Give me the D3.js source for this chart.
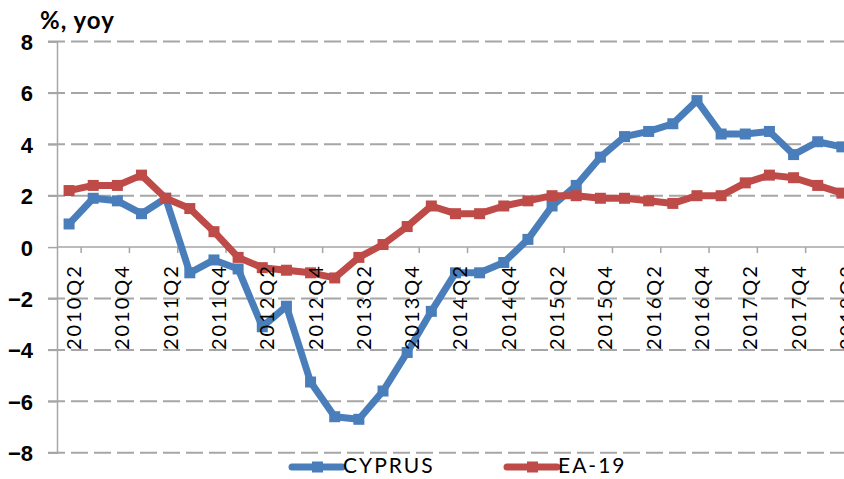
<!DOCTYPE html>
<html>
<head>
<meta charset="utf-8">
<script src="https://cdn.jsdelivr.net/npm/d3@7"></script>
<style>
  body { margin: 0; background: #fff; }
  svg { display: block; font-family: Lato, "Open Sans", sans-serif; }
</style>
</head>
<body>
<div id="chart"></div>
<script>
const quarters = [];
for (let yr = 2010; yr <= 2018; yr++) {
  for (let q = 1; q <= 4; q++) {
    const k = `${yr}Q${q}`;
    if (k >= '2010Q2' && k <= '2018Q2') quarters.push(k);
  }
}
const cyprus = [0.9, 1.9, 1.8, 1.3, 1.9, -1.0, -0.5, -0.85, -3.1, -2.3, -5.25, -6.6, -6.7, -5.6, -4.1, -2.5,
  -1.0, -1.0, -0.6, 0.3, 1.6, 2.4, 3.5, 4.3, 4.5, 4.8, 5.7, 4.4, 4.4, 4.5, 3.6, 4.1, 3.9];
const ea19 = [2.2, 2.4, 2.4, 2.8, 1.9, 1.5, 0.6, -0.4, -0.8, -0.9, -1.0, -1.2, -0.4, 0.1, 0.8, 1.6,
  1.3, 1.3, 1.6, 1.8, 2.0, 2.0, 1.9, 1.9, 1.8, 1.7, 2.0, 2.0, 2.5, 2.8, 2.7, 2.4, 2.1];
const yTicks = [-8, -6, -4, -2, 0, 2, 4, 6, 8];
const seriesNames = ['CYPRUS', 'EA-19'];
const colors = ['#4A7EBB', '#BE4B48'];

const W = 844, H = 479;
const svg = d3.select('#chart').append('svg').attr('width', W).attr('height', H);

const x = d3.scaleBand().domain(quarters).range([57, 57 + 33 * 24.15]).padding(0);
const y = d3.scaleLinear().domain([-8, 8]).range([452.7, 41.5]);
const cx = d => x(d) + x.bandwidth() / 2;

// gridlines
svg.append('g').selectAll('line').data(yTicks.filter(v => v !== 0)).join('line')
  .attr('x1', 48).attr('x2', W).attr('y1', d => y(d)).attr('y2', d => y(d))
  .attr('stroke', '#A6A6A6').attr('stroke-width', 2).attr('stroke-dasharray', '17,6');

// y axis
const yAxis = svg.append('g').attr('transform', 'translate(57,0)')
  .call(d3.axisLeft(y).tickValues(yTicks).tickSize(9).tickPadding(15).tickFormat(d3.format('d')));
yAxis.select('.domain').attr('stroke', '#A6A6A6').attr('stroke-width', 1.5);
yAxis.selectAll('.tick line').attr('stroke', '#A6A6A6').attr('stroke-width', 1.5);
yAxis.selectAll('text').style('font-size', '22px').style('font-weight', 'bold').attr('fill', '#000')
  .attr('dy', '0.36em');

// zero line and category ticks
svg.append('line').attr('x1', 57).attr('x2', W).attr('y1', y(0)).attr('y2', y(0))
  .attr('stroke', '#A6A6A6').attr('stroke-width', 1.5);
svg.append('g').selectAll('line').data(quarters.filter((d, i) => i % 2 === 1)).join('line')
  .attr('x1', d => x(d)).attr('x2', d => x(d)).attr('y1', y(0)).attr('y2', y(0) + 6)
  .attr('stroke', '#A6A6A6').attr('stroke-width', 1.5);

// series
const line = d3.line().x((v, i) => cx(quarters[i])).y(v => y(v));
[cyprus, ea19].forEach((vals, s) => {
  const g = svg.append('g');
  g.append('path').datum(vals).attr('d', line).attr('fill', 'none')
    .attr('stroke', colors[s]).attr('stroke-width', 7).attr('stroke-linejoin', 'round');
  g.selectAll('rect').data(vals).join('rect')
    .attr('x', (v, i) => cx(quarters[i]) - 5.5).attr('y', v => y(v) - 5.5)
    .attr('width', 11).attr('height', 11).attr('fill', colors[s]);
});

// x labels (drawn over the lines)
svg.append('g').selectAll('text').data(quarters.filter((d, i) => i % 2 === 0)).join('text')
  .attr('transform', d => `translate(${cx(d) + 4},${y(0) + 17}) rotate(-90)`)
  .attr('text-anchor', 'end').attr('dominant-baseline', 'central')
  .style('font-size', '20px').style('letter-spacing', '2px').attr('fill', '#000')
  .text(d => d);

// title
svg.append('text').attr('x', 40).attr('y', 29).style('font-size', '24px').style('font-weight', 'bold')
  .style('letter-spacing', '1px').attr('fill', '#000').text('%, yoy');

// legend
const legX = [292, 507];
seriesNames.forEach((name, s) => {
  const g = svg.append('g').attr('transform', `translate(${legX[s]},467)`);
  g.append('line').attr('x1', 0).attr('x2', 50).attr('stroke', colors[s]).attr('stroke-width', 7)
    .attr('stroke-linecap', 'round');
  g.append('rect').attr('x', 20).attr('y', -5.5).attr('width', 11).attr('height', 11).attr('fill', colors[s]);
  g.append('text').attr('x', 51).attr('y', 6).style('font-size', '21px').style('letter-spacing', '2px')
    .attr('fill', '#000').text(name);
});
</script>
</body>
</html>
